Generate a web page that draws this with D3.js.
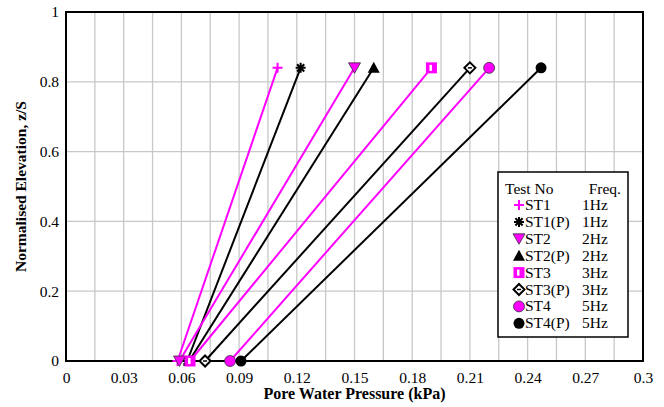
<!DOCTYPE html>
<html>
<head>
<meta charset="utf-8">
<script src="https://cdn.jsdelivr.net/npm/d3@7/dist/d3.min.js"></script>
<style>
  html, body { margin: 0; padding: 0; background: #fff; }
  svg { display: block; }
  text { font-family: "Liberation Serif", "Times New Roman", serif; fill: #000; }
</style>
</head>
<body>
<svg id="chart" width="664" height="407"></svg>
<script>
// Test series: name, loading frequency, pore water pressure at base (z/S = 0) and at top (z/S = 0.84)
const testNames = ["ST1", "ST1(P)", "ST2", "ST2(P)", "ST3", "ST3(P)", "ST4", "ST4(P)"];
const testFreqs = ["1Hz", "1Hz", "2Hz", "2Hz", "3Hz", "3Hz", "5Hz", "5Hz"];
const elevations = [0, 0.84];
const pwpAtBase = [0.058, 0.063, 0.059, 0.064, 0.0645, 0.0723, 0.0853, 0.091];
const pwpAtTop  = [0.110, 0.122, 0.150, 0.160, 0.190, 0.210, 0.220, 0.247];

const xTickValues = [0, 0.03, 0.06, 0.09, 0.12, 0.15, 0.18, 0.21, 0.24, 0.27, 0.3];
const xTickLabels = ["0", "0.03", "0.06", "0.09", "0.12", "0.15", "0.18", "0.21", "0.24", "0.27", "0.3"];
const yTickValues = [0, 0.2, 0.4, 0.6, 0.8, 1];
const yTickLabels = ["0", "0.2", "0.4", "0.6", "0.8", "1"];

const MAGENTA = "#ff00ff";
const FONT = 15.5;
const TITLE_FONT = 16;
const seriesColor = ["m", "k", "m", "k", "m", "k", "m", "k"].map(c => c === "m" ? MAGENTA : "#000");
const seriesMarker = ["plus", "asterisk", "triDown", "triUp", "square", "diamond", "circleM", "circleK"];

const svg = d3.select("#chart");
const plotLeft = 66, plotRight = 643, plotTop = 12, plotBottom = 361;

const x = d3.scaleLinear().domain([0, 0.3]).range([plotLeft, plotRight]);
const y = d3.scaleLinear().domain([0, 1]).range([plotBottom, plotTop]);

// gridlines
const grid = svg.append("g");
grid.selectAll("line.v").data(d3.range(1, 20).map(i => i * 0.015)).join("line")
  .attr("class", "v")
  .attr("x1", d => x(d)).attr("x2", d => x(d))
  .attr("y1", plotTop).attr("y2", plotBottom)
  .attr("stroke", "#c8c8c8").attr("stroke-width", 1.3);
grid.selectAll("line.h").data(yTickValues.slice(1, -1)).join("line")
  .attr("class", "h")
  .attr("x1", plotLeft).attr("x2", plotRight)
  .attr("y1", d => y(d)).attr("y2", d => y(d))
  .attr("stroke", "#c8c8c8").attr("stroke-width", 1.3);

// axes
const xAxis = svg.append("g").attr("transform", `translate(0,${plotBottom})`)
  .call(d3.axisBottom(x).tickValues(xTickValues).tickSize(0).tickPadding(11)
    .tickFormat((d, i) => xTickLabels[i]));
const yAxis = svg.append("g").attr("transform", `translate(${plotLeft},0)`)
  .call(d3.axisLeft(y).tickValues(yTickValues).tickSize(0).tickPadding(7)
    .tickFormat((d, i) => yTickLabels[i]));
[xAxis, yAxis].forEach(a => {
  a.select(".domain").remove();
  a.selectAll("text").attr("font-size", FONT).attr("font-family", "Liberation Serif");
});

// plot frame
svg.append("rect").attr("x", plotLeft).attr("y", plotTop)
  .attr("width", plotRight - plotLeft).attr("height", plotBottom - plotTop)
  .attr("fill", "none").attr("stroke", "#000").attr("stroke-width", 2);

// axis titles
svg.append("text").attr("x", (plotLeft + plotRight) / 2).attr("y", 399)
  .attr("text-anchor", "middle").attr("font-size", TITLE_FONT).attr("font-weight", "bold")
  .text("Pore Water Pressure (kPa)");
svg.append("text")
  .attr("transform", `translate(26,${(plotTop + plotBottom) / 2}) rotate(-90)`)
  .attr("text-anchor", "middle").attr("font-size", FONT).attr("font-weight", "bold")
  .text("Normalised Elevation, z/S");

// marker drawing
function drawMarker(g, type, cx, cy) {
  const m = g.append("g").attr("transform", `translate(${cx},${cy})`);
  switch (type) {
    case "plus":
      m.append("path").attr("d", "M-5,0H5M0,-5V5").attr("stroke", MAGENTA).attr("stroke-width", 2);
      break;
    case "asterisk":
      m.append("path").attr("d", "M-5,0H5M0,-5V5M-3.6,-3.6L3.6,3.6M-3.6,3.6L3.6,-3.6")
        .attr("stroke", "#000").attr("stroke-width", 2);
      break;
    case "triDown":
      m.append("path").attr("d", "M-6,-5H6L0,5.5Z").attr("fill", MAGENTA)
        .attr("stroke", "#333").attr("stroke-width", 0.8);
      break;
    case "triUp":
      m.append("path").attr("d", "M-6,5H6L0,-6Z").attr("fill", "#000");
      break;
    case "square":
      m.append("rect").attr("x", -5.5).attr("y", -5.5).attr("width", 11).attr("height", 11).attr("fill", MAGENTA);
      m.append("rect").attr("x", -2).attr("y", -3).attr("width", 2.5).attr("height", 6).attr("fill", "#fff");
      break;
    case "diamond":
      m.append("path").attr("d", "M0,-5.5L5.5,0L0,5.5L-5.5,0Z").attr("fill", "#fff")
        .attr("stroke", "#000").attr("stroke-width", 2);
      m.append("path").attr("d", "M-2,0H2").attr("stroke", "#000").attr("stroke-width", 1.5);
      break;
    case "circleM":
      m.append("circle").attr("r", 5.5).attr("fill", MAGENTA).attr("stroke", "#333").attr("stroke-width", 0.8);
      break;
    case "circleK":
      m.append("circle").attr("r", 5.5).attr("fill", "#000");
      break;
  }
}

// series lines and markers
const line = d3.line().x(d => x(d[0])).y(d => y(d[1]));
const plot = svg.append("g");
testNames.forEach((name, i) => {
  const pts = [[pwpAtBase[i], elevations[0]], [pwpAtTop[i], elevations[1]]];
  const g = plot.append("g");
  g.append("path").attr("d", line(pts)).attr("fill", "none")
    .attr("stroke", seriesColor[i]).attr("stroke-width", 2);
  pts.forEach(p => drawMarker(g, seriesMarker[i], x(p[0]), y(p[1])));
});

// legend
const lg = svg.append("g");
lg.append("rect").attr("x", 498).attr("y", 172).attr("width", 130).attr("height", 165)
  .attr("fill", "#fff").attr("stroke", "#000").attr("stroke-width", 1.5);
lg.append("text").attr("x", 505).attr("y", 194).attr("font-size", FONT).text("Test No");
lg.append("text").attr("x", 621).attr("y", 194).attr("font-size", FONT).attr("text-anchor", "end").text("Freq.");
testNames.forEach((name, i) => {
  const cy = 205 + i * 16.9;
  drawMarker(lg, seriesMarker[i], 519, cy);
  lg.append("text").attr("x", 525).attr("y", cy + 5).attr("font-size", FONT).text(name);
  lg.append("text").attr("x", 582).attr("y", cy + 5).attr("font-size", FONT).text(testFreqs[i]);
});
</script>
</body>
</html>
